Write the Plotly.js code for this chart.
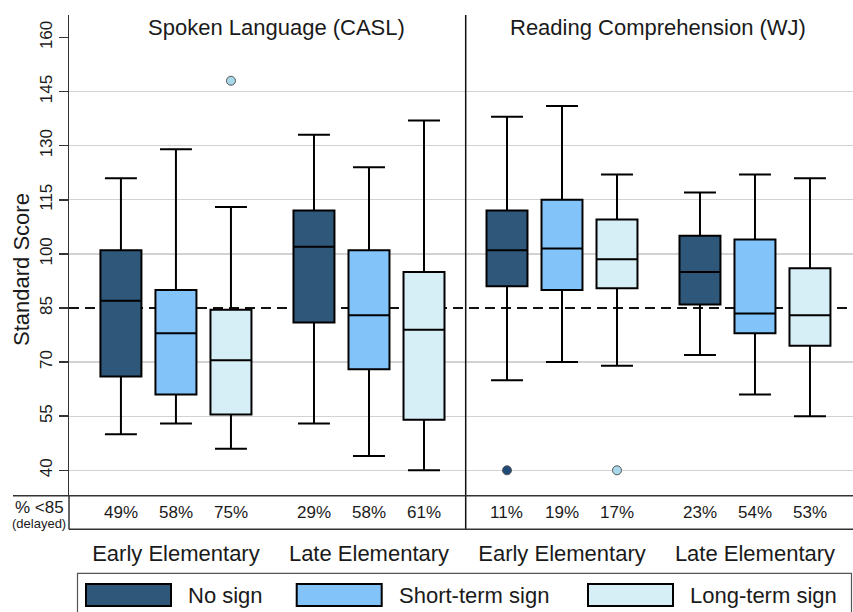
<!DOCTYPE html>
<html><head><meta charset="utf-8">
<script src="https://cdn.plot.ly/plotly-3.0.1.min.js"></script>
<style>html,body{margin:0;padding:0;background:#fff}#chart{width:853px;height:612px}</style>
</head><body><div id="chart"></div>
<script>
// ---------------- data ----------------
const categories = ['Early Elementary', 'Late Elementary'];
const seriesNames = ['No sign', 'Short-term sign', 'Long-term sign'];
const panelTitles = ['Spoken Language (CASL)', 'Reading Comprehension (WJ)'];
const threshold = 85;
const yTicks = [40, 55, 70, 85, 100, 115, 130, 145, 160];
const yGrid = [40, 55, 70, 100, 115, 130, 145];
const pctRowLabel = '% <85';
const pctRowSub = '(delayed)';
const yTitle = 'Standard Score';

// indexed [series][category]
const caslLow = [[50, 53], [53, 44], [46, 40]];
const caslQ1 = [[66, 81], [61, 68], [55.5, 54]];
const caslMed = [[87, 102], [78, 83], [70.5, 79]];
const caslQ3 = [[101, 112], [90, 101], [84.5, 95]];
const caslHigh = [[121, 133], [129, 124], [113, 137]];
const caslOutliers = [[[], []], [[], []], [[148], []]];
const caslPct = [[49, 29], [58, 58], [75, 61]];

const wjLow = [[65, 72], [70, 61], [69, 55]];
const wjQ1 = [[91, 86], [90, 78], [90.5, 74.5]];
const wjMed = [[101, 95], [101.5, 83.5], [98.5, 83]];
const wjQ3 = [[112, 105], [115, 104], [109.5, 96]];
const wjHigh = [[138, 117], [141, 122], [122, 121]];
const wjOutliers = [[[40], []], [[], []], [[40], []]];
const wjPct = [[11, 23], [19, 54], [17, 53]];

// ---------------- styling ----------------
const W = 853, H = 612;
const px = v => v / W;
const py = v => 1 - v / H;
const FONT = 'Liberation Sans, Arial, Helvetica, sans-serif';
const TXT = '#1a1a1a';
const fills = ['#2E5779', '#82C3F9', '#D6EEF6'];
const outlierFills = ['#1F4B78', '#82C3F9', '#A9D8EA'];
const plotLeft = 69, divider = 465.7, plotTop = 15, plotBottom = 495.7, rowBottom = 529.3;
const groupStepPx = 55;

const panels = [
  {xa: 'x', ya: 'y', low: caslLow, q1: caslQ1, med: caslMed, q3: caslQ3, high: caslHigh, out: caslOutliers, pct: caslPct},
  {xa: 'x2', ya: 'y2', low: wjLow, q1: wjQ1, med: wjMed, q3: wjQ3, high: wjHigh, out: wjOutliers, pct: wjPct}
];

const traces = [];
const annotations = [];
panels.forEach((p, pi) => {
  seriesNames.forEach((name, s) => {
    const tr = {
      type: 'box',
      name: name,
      xaxis: p.xa, yaxis: p.ya,
      x: categories,
      q1: p.q1[s], median: p.med[s], q3: p.q3[s],
      lowerfence: p.low[s], upperfence: p.high[s],
      offsetgroup: 'g' + s,
      fillcolor: fills[s],
      line: {color: '#000', width: 2},
      whiskerwidth: 0.78,
      showlegend: false,
      hoverinfo: 'skip'
    };
    const hasOut = p.out[s].some(a => a.length > 0);
    if (hasOut) {
      tr.y = p.out[s];
      tr.boxpoints = 'outliers';
      tr.pointpos = 0;
      tr.jitter = 0;
      tr.marker = {color: outlierFills[s], size: 9, line: {color: '#555', width: 1}};
    } else {
      tr.boxpoints = false;
    }
    traces.push(tr);
    categories.forEach((c, ci) => {
      annotations.push({
        xref: p.xa, x: c, xshift: (s - 1) * groupStepPx,
        yref: 'paper', y: py(512), yanchor: 'middle',
        text: p.pct[s][ci] + '%', showarrow: false,
        font: {family: FONT, size: 17, color: TXT}
      });
    });
  });
});

// panel titles
annotations.push({xref: 'paper', yref: 'paper', x: px(276), y: py(28), text: panelTitles[0], showarrow: false, xanchor: 'center', yanchor: 'middle', font: {family: FONT, size: 22, color: TXT}});
annotations.push({xref: 'paper', yref: 'paper', x: px(658), y: py(28), text: panelTitles[1], showarrow: false, xanchor: 'center', yanchor: 'middle', font: {family: FONT, size: 22, color: TXT}});
// y title
annotations.push({xref: 'paper', yref: 'paper', x: px(21), y: py(270), text: yTitle, textangle: -90, showarrow: false, xanchor: 'center', yanchor: 'middle', font: {family: FONT, size: 22, color: TXT}});
// pct row label
annotations.push({xref: 'paper', yref: 'paper', x: px(39), y: py(507), text: pctRowLabel, showarrow: false, xanchor: 'center', yanchor: 'middle', font: {family: FONT, size: 17, color: TXT}});
annotations.push({xref: 'paper', yref: 'paper', x: px(39), y: py(523), text: pctRowSub, showarrow: false, xanchor: 'center', yanchor: 'middle', font: {family: FONT, size: 13, color: TXT}});

// legend (drawn manually)
const legendSwatchX = [86, 296.7, 588];
const shapes = [];
seriesNames.forEach((name, s) => {
  shapes.push({type: 'rect', xref: 'paper', yref: 'paper', x0: px(legendSwatchX[s]), x1: px(legendSwatchX[s] + 85), y0: py(606), y1: py(584), fillcolor: fills[s], line: {color: '#000', width: 2}});
  annotations.push({xref: 'paper', yref: 'paper', x: px(legendSwatchX[s] + 100), y: py(595), text: name, showarrow: false, xanchor: 'left', yanchor: 'middle', font: {family: FONT, size: 22, color: TXT}});
});
shapes.push({type: 'rect', xref: 'paper', yref: 'paper', x0: px(77.5), x1: px(851.5), y0: -0.05, y1: py(573.3), line: {color: '#555', width: 1.2}, layer: 'below'});

// threshold line (behind the boxes)
shapes.push({type: 'line', xref: 'paper', yref: 'y', x0: px(plotLeft), x1: 1, y0: threshold, y1: threshold, layer: 'below', line: {color: '#111', width: 2, dash: '10px,6px'}});
// panel divider
shapes.push({type: 'line', xref: 'paper', yref: 'paper', x0: px(divider), x1: px(divider), y0: py(rowBottom), y1: py(plotTop), line: {color: '#111', width: 1.5}});
// pct row frame
shapes.push({type: 'line', xref: 'paper', yref: 'paper', x0: px(13), x1: 1, y0: py(plotBottom), y1: py(plotBottom), line: {color: '#333', width: 1.5}});
shapes.push({type: 'line', xref: 'paper', yref: 'paper', x0: px(plotLeft), x1: 1, y0: py(rowBottom), y1: py(rowBottom), line: {color: '#333', width: 1.5}});
shapes.push({type: 'line', xref: 'paper', yref: 'paper', x0: px(plotLeft), x1: px(plotLeft), y0: py(rowBottom), y1: py(plotBottom), line: {color: '#333', width: 1.5}});

const yRange = [32.96, 166.23];
const xCommon = {
  type: 'category', categoryarray: categories, categoryorder: 'array',
  showgrid: false, zeroline: false, showline: false, ticks: '',
  tickfont: {family: FONT, size: 22, color: TXT}, ticklabelstandoff: 42, fixedrange: true
};
const yCommon = {
  range: yRange, zeroline: false, showgrid: false, fixedrange: true,
  minor: {tickvals: yGrid, showgrid: true, gridcolor: '#d2d2d2', gridwidth: 1.3, ticks: ''}
};

const layout = {
  width: W, height: H, autosize: false,
  margin: {l: 0, r: 0, t: 0, b: 0},
  paper_bgcolor: '#fff', plot_bgcolor: 'rgba(0,0,0,0)',
  font: {family: FONT, color: TXT},
  showlegend: false, hovermode: false,
  boxmode: 'group', boxgap: 0.145, boxgroupgap: 0.255,
  xaxis: Object.assign({}, xCommon, {domain: [px(plotLeft), px(divider)], range: [-0.554, 1.501], anchor: 'y'}),
  xaxis2: Object.assign({}, xCommon, {domain: [px(divider), 1], range: [-0.499, 1.508], anchor: 'y2'}),
  yaxis: Object.assign({}, yCommon, {
    domain: [py(plotBottom), py(plotTop)], anchor: 'x',
    tickvals: yTicks, tickangle: -90, ticks: 'outside', ticklen: 9, tickwidth: 1.5, tickcolor: '#333',
    showline: true, linecolor: '#333', linewidth: 1.5,
    tickfont: {family: FONT, size: 17, color: TXT}
  }),
  yaxis2: Object.assign({}, yCommon, {
    domain: [py(plotBottom), py(plotTop)], anchor: 'x2', matches: 'y', showticklabels: false, ticks: ''
  }),
  shapes: shapes,
  annotations: annotations
};

Plotly.newPlot('chart', traces, layout, {staticPlot: true, displayModeBar: false});
</script>
</body></html>
